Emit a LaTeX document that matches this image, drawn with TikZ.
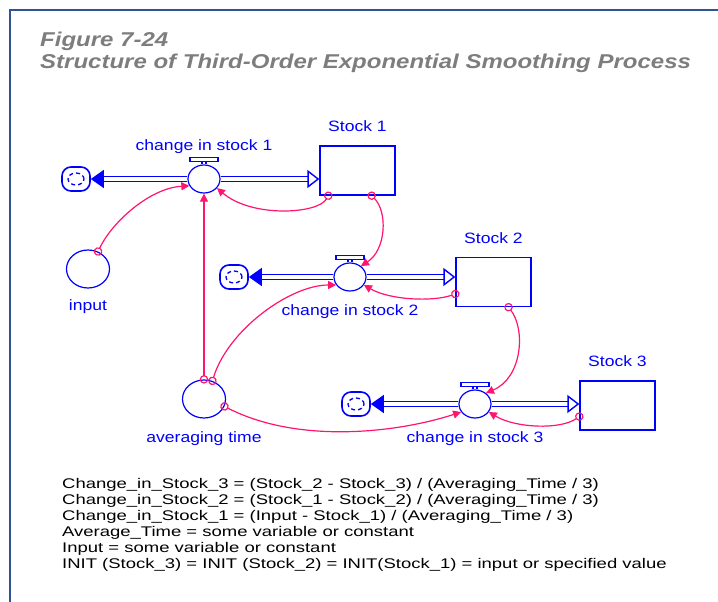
\documentclass[tikz,border=0pt]{standalone}
\usepackage{fontspec}
\setmainfont{Liberation Sans}
\newfontfamily\figtitlefont[FakeStretch=1.2]{Liberation Sans}
\newfontfamily\diagfont[FakeStretch=1.17]{Liberation Sans}
\newfontfamily\eqfont[FakeStretch=1.32]{Liberation Sans}
\usetikzlibrary{arrows.meta,shapes.geometric}
\definecolor{flowblue}{RGB}{0,0,255}
\definecolor{linkpink}{RGB}{255,20,110}
\definecolor{framecol}{RGB}{46,84,150}
\definecolor{titlegray}{RGB}{125,125,125}

\begin{document}
\begin{tikzpicture}[x=1pt,y=-1pt]
    \tikzstyle{stock}=[rectangle,draw=flowblue,line width=1.3pt,minimum width=75pt,minimum height=49pt,inner sep=0pt]
    \tikzstyle{valve}=[ellipse,draw=flowblue,fill=white,line width=1.2pt,minimum width=32pt,minimum height=28pt,inner sep=0pt]
    \tikzstyle{converter}=[ellipse,draw=flowblue,line width=1.2pt,minimum width=43pt,minimum height=38pt,inner sep=0pt]
    \tikzstyle{sourcecloud}=[rectangle,rounded corners=9pt,draw=flowblue,line width=1.6pt,minimum width=28pt,minimum height=24pt,inner sep=0pt,
        path picture={\draw[flowblue,line width=1.3pt,dash pattern=on 4pt off 3pt] (path picture bounding box.center) ellipse (8pt and 6pt);}]
    \tikzstyle{pipe}=[draw=flowblue,line width=1.4pt,double=white,double distance=3.4pt]
    \tikzstyle{outflow}=[pipe,-{Triangle[length=13pt,width=18pt]}]
    \tikzstyle{inflow}=[pipe,-{Triangle[open,length=12pt,width=18pt]}]
    \tikzstyle{handle}=[draw=flowblue,line width=1.2pt]
    \tikzstyle{link}=[draw=linkpink,line width=1.2pt,{Circle[open,length=8.5pt,width=8.5pt]}-{Triangle[length=8pt,width=8pt]},shorten <=-4.2pt]
    \tikzstyle{lbl}=[text=flowblue,font=\diagfont\fontsize{15}{15}\selectfont,anchor=base,inner sep=0pt]
    \tikzstyle{figtitle}=[text=titlegray,font=\figtitlefont\bfseries\itshape\fontsize{20}{20}\selectfont,anchor=base west,inner sep=0pt]
    \tikzstyle{eqn}=[text=black,font=\eqfont\fontsize{14}{16}\selectfont,anchor=base west,inner sep=0pt]

    \useasboundingbox (0,0) rectangle (718,602);
    % frame and title
    \draw[framecol,line width=2pt] (10,602) -- (10,10) -- (718,10);
    \node[figtitle] (fignum) at (40,47) {Figure 7-24};
    \node[figtitle] (figcap) at (40,69) {Structure of Third-Order Exponential Smoothing Process};

    % Draw the three stock / flow chains
    \foreach \n/\vx/\vy/\cx/\sx/\sy in {1/204/179/76/357.5/170.5, 2/350/277/234/493.5/282, 3/475/404/356/617.5/405.5} {
        \node[valve] (v\n) at (\vx,\vy) {};
        \node[sourcecloud] (c\n) at (\cx,\vy) {};
        \node[stock] (s\n) at (\sx,\sy) {};
        \node[lbl] (s\n-lbl) at ([yshift=13.5pt]s\n.north) {Stock \n};
        \draw[outflow] (v\n) -- (c\n);
        \draw[inflow] (v\n) -- (s\n.west |- v\n);
        \draw[handle] ([xshift=-14pt,yshift=3pt]v\n.north) rectangle ([xshift=14pt,yshift=7pt]v\n.north);
        \draw[handle] ([xshift=-2pt]v\n.north) -- ([xshift=-2pt,yshift=3pt]v\n.north)
                      ([xshift=2pt]v\n.north) -- ([xshift=2pt,yshift=3pt]v\n.north);
    }
    \node[lbl] (v1-lbl) at ([yshift=13.5pt]v1.north) {change in stock 1};
    \node[lbl] (v2-lbl) at ([yshift=-24pt]v2.south) {change in stock 2};
    \node[lbl] (v3-lbl) at ([yshift=-24pt]v3.south) {change in stock 3};

    % converters
    \node[converter] (input) at (88,269) {};
    \node[converter] (avg) at (204,399) {};
    \node[lbl] (input-lbl) at ([yshift=-22pt]input.south) {input};
    \node[lbl] (avg-lbl) at ([yshift=-24pt]avg.south) {averaging time};

    % information links
    \draw[link] (input.60) .. controls (112,222) and (150,188) .. (v1.205);
    \draw[link] ([xshift=9pt]s1.south west) .. controls (318,214) and (252,218) .. (v1.-35);
    \draw[link] ([xshift=-24pt]s1.south east) .. controls (388,212) and (386,250) .. (v2.45);
    \draw[link] (avg.north) -- (v1.south);
    \draw[link] (avg.65) .. controls (228,330) and (290,285) .. (v2.210);
    \draw[link] (avg.-20) .. controls (300,445) and (400,432) .. (v3.210);
    \draw[link] ([yshift=-12pt]s2.west) .. controls (432,302) and (390,300) .. (v2.-30);
    \draw[link] ([xshift=15pt]s2.south) .. controls (526,330) and (522,378) .. (v3.45);
    \draw[link] ([yshift=-11pt]s3.west) .. controls (560,430) and (515,428) .. (v3.-30);

    % equations
    \foreach \eqline [count=\k from 0] in {
        {Change\_in\_Stock\_3 = (Stock\_2 - Stock\_3) / (Averaging\_Time / 3)},
        {Change\_in\_Stock\_2 = (Stock\_1 - Stock\_2) / (Averaging\_Time / 3)},
        {Change\_in\_Stock\_1 = (Input - Stock\_1) / (Averaging\_Time / 3)},
        {Average\_Time = some variable or constant},
        {Input = some variable or constant},
        {INIT (Stock\_3) = INIT (Stock\_2) = INIT(Stock\_1) = input or specified value}}
        \node[eqn] (eq-\k) at (62,488+16*\k) {\eqline};
\end{tikzpicture}
\end{document}
